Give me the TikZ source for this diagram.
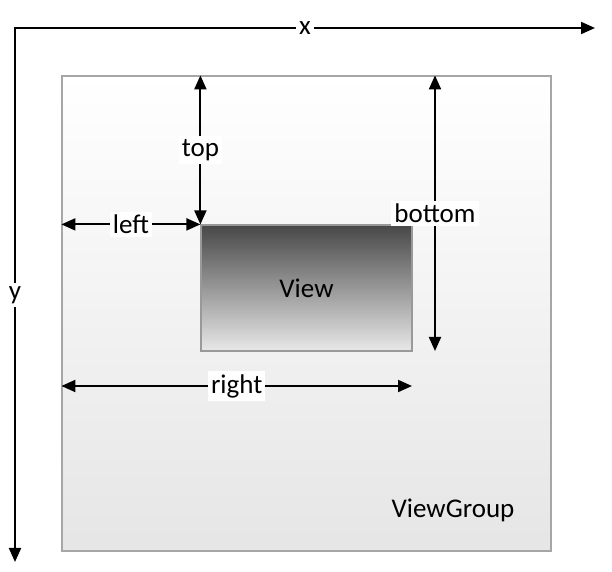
\documentclass[tikz,border=0pt]{standalone}
\usepackage{fontspec}
\setmainfont{Carlito}
\usetikzlibrary{arrows.meta}

\tikzset{
  dim/.style={{Triangle[length=7pt,width=6pt]}-{Triangle[length=7pt,width=6pt]}, line width=1pt},
  lbl/.style={fill=white, inner sep=1.5pt, font=\fontsize{13.5}{16}\selectfont},
}

\begin{document}
\begin{tikzpicture}[x=0.5pt, y=-0.5pt]
\useasboundingbox (0,0) rectangle (612,572);

% ViewGroup and View rectangles
\node (vg) [draw=gray!70, line width=0.6pt, top color=white, bottom color=gray!20,
  minimum width=244.5pt, minimum height=237.5pt, inner sep=0pt] at (306.5,313.5) {};
\node (view) [draw=gray!80, line width=0.6pt, top color=black!72, bottom color=gray!18,
  minimum width=105.5pt, minimum height=63pt, inner sep=0pt,
  font=\fontsize{13.5}{16}\selectfont] at (306.5,288) {View};
\node (vglbl) [font=\fontsize{13.5}{16}\selectfont] at (453,510) {ViewGroup};

% axes
\coordinate (o) at (15,28);
\coordinate (xtip) at (595,28);
\coordinate (ytip) at (15,562);
\draw[dim] (ytip) -- (o) -- node[lbl, pos=.5] {x} (xtip);
\path (o) -- node[lbl, pos=.5] {y} (ytip);

% margins
\coordinate (bx) at (435,351);
\coordinate (rx) at (412,386);
\draw[dim] (view.north west |- vg.north) -- node[lbl] {top} (view.north west);
\draw[dim] (vg.west |- view.north) -- node[lbl] {left} (view.north west);
\draw[dim] (bx |- vg.north) -- node[lbl] {bottom} (bx);
\draw[dim] (vg.west |- rx) -- node[lbl] {right} (rx);

\end{tikzpicture}
\end{document}
